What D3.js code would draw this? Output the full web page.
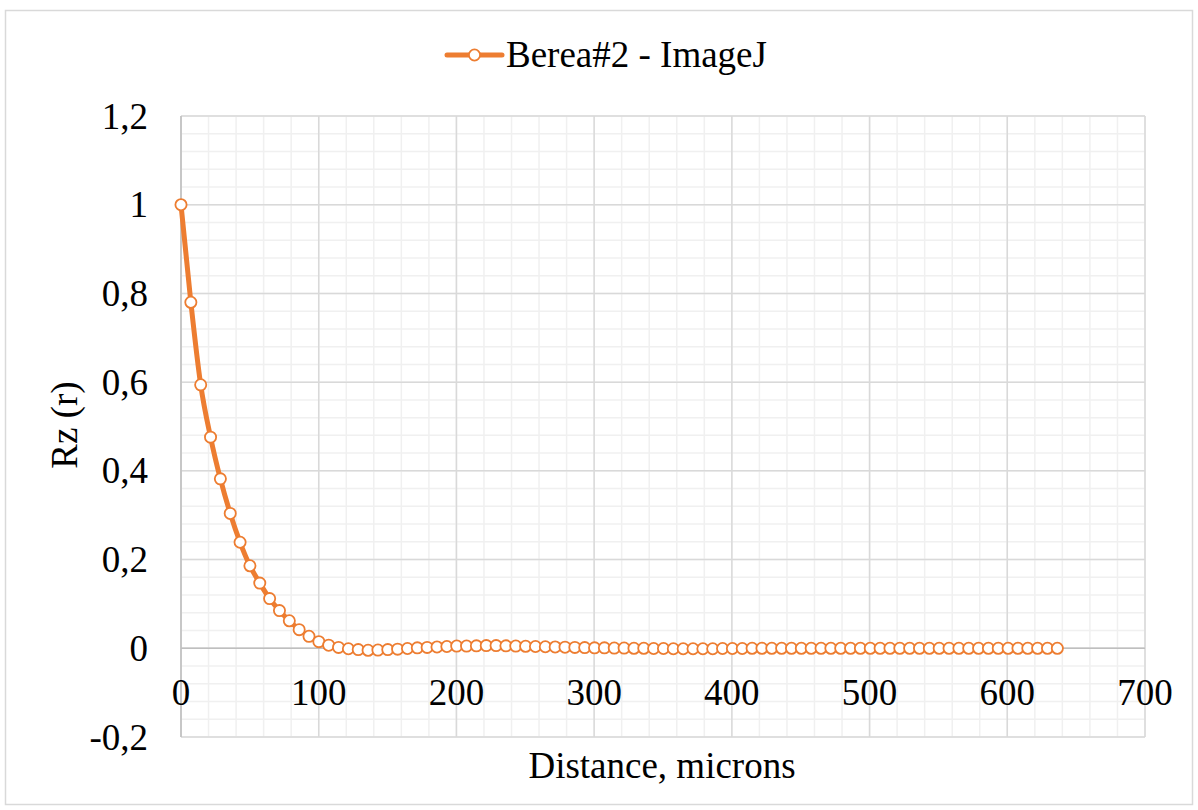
<!DOCTYPE html>
<meta charset="utf-8">
<script src="https://cdn.jsdelivr.net/npm/d3@7"></script>
<style>
  body { margin: 0; background: #fff; }
  text { font-family: "Liberation Serif", "Times New Roman", serif; fill: #000; }
</style>
<div id="my_dataviz"></div>
<script>

// data
var seriesName = "Berea#2 - ImageJ"
var step = 7.15
var rz = [1.0, 0.780, 0.594, 0.476, 0.382, 0.304, 0.239, 0.186, 0.147, 0.112,
          0.085, 0.062, 0.042, 0.027, 0.015, 0.007, 0.002, -0.001, -0.003, -0.0045,
          -0.004, -0.003, -0.002, -0.0005, 0.001, 0.002, 0.003, 0.004, 0.005, 0.005,
          0.0055, 0.006, 0.006, 0.0055, 0.005, 0.0045, 0.004, 0.0035, 0.003, 0.0025,
          0.002, 0.0015, 0.001, 0.001, 0.0005, 0.0005, 0, 0, -0.0005, -0.0005,
          -0.001, -0.001, -0.001, -0.001, -0.001, -0.0005, -0.0005, -0.0005, 0, 0,
          0, 0, 0, 0, 0, 0, 0, 0, 0, 0,
          0, 0, 0, 0, 0, 0, 0, 0, 0, 0,
          0, 0, 0, 0, 0, 0, 0, 0, 0, 0]
var distance = rz.map(function(d, i) { return +(i * step).toFixed(2) })
var xTicks = [0, 100, 200, 300, 400, 500, 600, 700]
var yTicks = [-0.2, 0, 0.2, 0.4, 0.6, 0.8, 1, 1.2]

var data = distance.map(function(d, i) { return {x: d, y: rz[i]} })

var W = 1198, H = 810
var margin = {top: 116, right: 53, bottom: 73, left: 181},
    width = W - margin.left - margin.right,
    height = H - margin.top - margin.bottom

var svgRoot = d3.select("#my_dataviz")
  .append("svg")
    .attr("width", W)
    .attr("height", H)

// chart border
svgRoot.append("rect")
  .attr("x", 5.5).attr("y", 10.5)
  .attr("width", W - 11).attr("height", H - 16)
  .attr("fill", "#fff")
  .attr("stroke", "#d9d9d9")
  .attr("stroke-width", 1.5)

var svg = svgRoot.append("g")
  .attr("transform", "translate(" + margin.left + "," + margin.top + ")")

var x = d3.scaleLinear().domain([0, 700]).range([0, width])
var y = d3.scaleLinear().domain([-0.2, 1.2]).range([height, 0])

// minor grid
var xMinor = d3.range(0, 701, 20)
var yMinor = d3.range(-0.2, 1.2001, 0.04)
svg.append("g").selectAll("line").data(xMinor).enter().append("line")
  .attr("x1", function(d) { return x(d) }).attr("x2", function(d) { return x(d) })
  .attr("y1", 0).attr("y2", height)
  .attr("stroke", "#f0f0f0").attr("stroke-width", 1.5)
svg.append("g").selectAll("line").data(yMinor).enter().append("line")
  .attr("y1", function(d) { return y(d) }).attr("y2", function(d) { return y(d) })
  .attr("x1", 0).attr("x2", width)
  .attr("stroke", "#f0f0f0").attr("stroke-width", 1.5)

// major grid
svg.append("g").selectAll("line").data(xTicks).enter().append("line")
  .attr("x1", function(d) { return x(d) }).attr("x2", function(d) { return x(d) })
  .attr("y1", 0).attr("y2", height)
  .attr("stroke", "#d9d9d9").attr("stroke-width", 1.5)
svg.append("g").selectAll("line").data(yTicks).enter().append("line")
  .attr("y1", function(d) { return y(d) }).attr("y2", function(d) { return y(d) })
  .attr("x1", 0).attr("x2", width)
  .attr("stroke", "#d9d9d9").attr("stroke-width", 1.5)

// axis lines
svg.append("line")
  .attr("x1", 0).attr("x2", width).attr("y1", y(0)).attr("y2", y(0))
  .attr("stroke", "#bfbfbf").attr("stroke-width", 1.5)
svg.append("line")
  .attr("x1", x(0)).attr("x2", x(0)).attr("y1", 0).attr("y2", height)
  .attr("stroke", "#bfbfbf").attr("stroke-width", 1.5)

// tick labels (comma decimal, plain hyphen minus)
var fmt = function(d) { return String(+d.toFixed(1)).replace(".", ",") }
svg.append("g").selectAll("text").data(yTicks).enter().append("text")
  .attr("x", -33)
  .attr("y", function(d) { return y(d) })
  .attr("dy", "0.34em")
  .attr("text-anchor", "end")
  .style("font-size", "37px")
  .text(fmt)
svg.append("g").selectAll("text").data(xTicks).enter().append("text")
  .attr("x", function(d) { return x(d) })
  .attr("y", y(0) + 57)
  .attr("text-anchor", "middle")
  .style("font-size", "37px")
  .text(function(d) { return d })

// axis titles
svgRoot.append("text")
  .attr("x", 662).attr("y", 778)
  .attr("text-anchor", "middle")
  .style("font-size", "37px")
  .text("Distance, microns")
svgRoot.append("text")
  .attr("transform", "translate(77,425) rotate(-90)")
  .attr("text-anchor", "middle")
  .style("font-size", "37px")
  .text("Rz (r)")

// series
var orange = "#ed7d31"
svg.append("path")
  .datum(data)
  .attr("fill", "none")
  .attr("stroke", orange)
  .attr("stroke-width", 5)
  .attr("stroke-linejoin", "round")
  .attr("d", d3.line()
    .curve(d3.curveMonotoneX)
    .x(function(d) { return x(d.x) })
    .y(function(d) { return y(d.y) }))

svg.append("g").selectAll("circle").data(data).enter().append("circle")
  .attr("cx", function(d) { return x(d.x) })
  .attr("cy", function(d) { return y(d.y) })
  .attr("r", 5.6)
  .attr("fill", "#fff")
  .attr("stroke", orange)
  .attr("stroke-width", 1.8)

// legend
var lg = svgRoot.append("g")
lg.append("line")
  .attr("x1", 447).attr("x2", 502).attr("y1", 55).attr("y2", 55)
  .attr("stroke", orange).attr("stroke-width", 5).attr("stroke-linecap", "round")
lg.append("circle")
  .attr("cx", 474.5).attr("cy", 55).attr("r", 5.6)
  .attr("fill", "#fff").attr("stroke", orange).attr("stroke-width", 1.8)
lg.append("text")
  .attr("x", 506).attr("y", 67)
  .style("font-size", "37px")
  .text(seriesName)

</script>
